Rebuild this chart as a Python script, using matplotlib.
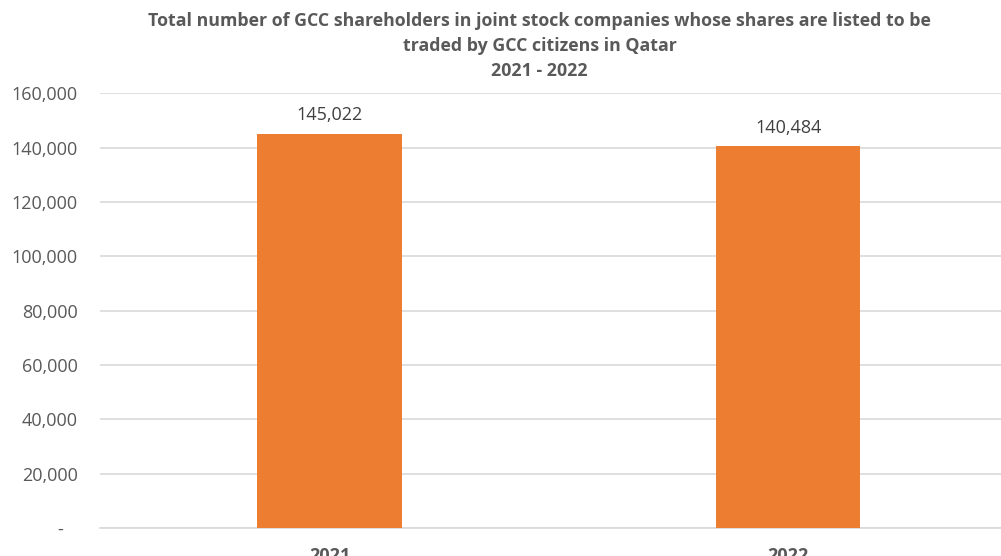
import matplotlib
matplotlib.use("Agg")
import matplotlib.pyplot as plt
from matplotlib.ticker import FuncFormatter, MultipleLocator

years = ["2021", "2022"]
shareholders = [145022, 140484]

title = ("Total number of GCC shareholders in joint stock companies whose shares are listed to be\n"
         "traded by GCC citizens in Qatar\n2021 - 2022")

plt.rcParams['font.family'] = ['Open Sans', 'DejaVu Sans']
txt = '#595959'
bar_col = '#ED7D31'

fig = plt.figure(figsize=(10.01, 5.56), dpi=100)
ax = fig.add_axes([0.0999, 0.0504, 0.917, 0.782])

x = range(len(years))
bars = ax.bar(x, shareholders, width=0.314, color=bar_col, zorder=3)
for b, v in zip(bars, shareholders):
    ax.text(b.get_x() + b.get_width() / 2, v + 3500, f"{v:,}", ha='center', va='bottom',
            fontsize=13, color='#404040')

ax.set_xlim(-0.5, 1.5)
ax.set_ylim(0, 160000)
ax.yaxis.set_major_locator(MultipleLocator(20000))
ax.yaxis.set_major_formatter(FuncFormatter(lambda v, p: "-   " if v == 0 else f"{int(v):,}"))
ax.set_xticks(list(x))
ax.set_xticklabels(years, fontweight='bold', fontsize=13, color=txt)
ax.tick_params(axis='y', labelsize=13, labelcolor=txt, length=0, pad=16)
ax.tick_params(axis='x', length=0, pad=14)
ax.grid(axis='y', color='#d9d9d9', linewidth=1.2, zorder=0)
for s in ['top', 'right', 'left']:
    ax.spines[s].set_visible(False)
ax.spines['bottom'].set_color('#d9d9d9')
ax.spines['bottom'].set_linewidth(1.2)

fig.text(0.539, 0.978, title, ha='center', va='top', fontsize=12.8, fontweight='bold',
         color=txt, linespacing=1.5)

fig.savefig("out.png", dpi=100)
